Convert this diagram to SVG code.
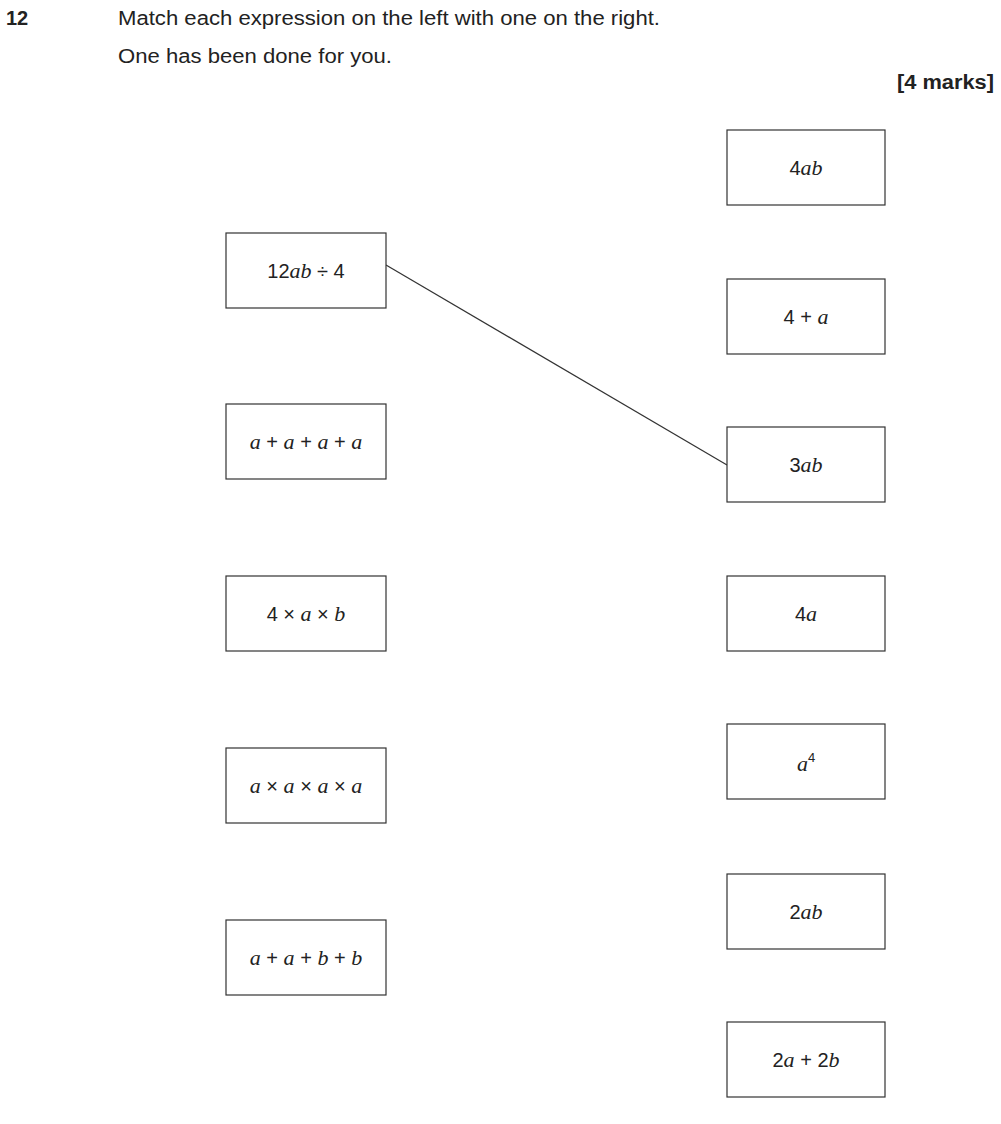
<svg xmlns="http://www.w3.org/2000/svg" width="1001" height="1124" viewBox="0 0 1001 1124">
<style>
.b{fill:#fff;stroke:#333;stroke-width:1.2}
.t{font-family:"Liberation Sans",Arial,sans-serif;font-size:20px;fill:#222;text-anchor:middle}
.i{font-family:"Liberation Serif","Times New Roman",serif;font-style:italic;font-size:22px}
.h{font-family:"Liberation Sans",Arial,sans-serif;font-size:20px;fill:#222}
</style>
<rect width="1001" height="1124" fill="#fff"/>
<text class="h" x="6" y="25" font-weight="bold">12</text>
<text class="h" x="118" y="25" textLength="542" lengthAdjust="spacingAndGlyphs">Match each expression on the left with one on the right.</text>
<text class="h" x="118" y="63" textLength="274" lengthAdjust="spacingAndGlyphs">One has been done for you.</text>
<text class="h" x="897" y="89" font-weight="bold" textLength="97" lengthAdjust="spacingAndGlyphs">[4 marks]</text>
<g id="connectors"><line x1="386" y1="265" x2="727" y2="465" stroke="#333" stroke-width="1.2"/></g>
<g id="L1"><rect class="b" x="226" y="233" width="160" height="75"/><text class="t" x="306" y="278">12<tspan class="i">ab</tspan> ÷ 4</text></g>
<g id="L2"><rect class="b" x="226" y="404" width="160" height="75"/><text class="t" x="306" y="449"><tspan class="i">a</tspan> + <tspan class="i">a</tspan> + <tspan class="i">a</tspan> + <tspan class="i">a</tspan></text></g>
<g id="L3"><rect class="b" x="226" y="576" width="160" height="75"/><text class="t" x="306" y="621">4 × <tspan class="i">a</tspan> × <tspan class="i">b</tspan></text></g>
<g id="L4"><rect class="b" x="226" y="748" width="160" height="75"/><text class="t" x="306" y="793"><tspan class="i">a</tspan> × <tspan class="i">a</tspan> × <tspan class="i">a</tspan> × <tspan class="i">a</tspan></text></g>
<g id="L5"><rect class="b" x="226" y="920" width="160" height="75"/><text class="t" x="306" y="965"><tspan class="i">a</tspan> + <tspan class="i">a</tspan> + <tspan class="i">b</tspan> + <tspan class="i">b</tspan></text></g>
<g id="R1"><rect class="b" x="727" y="130" width="158" height="75"/><text class="t" x="806" y="175">4<tspan class="i">ab</tspan></text></g>
<g id="R2"><rect class="b" x="727" y="279" width="158" height="75"/><text class="t" x="806" y="324">4 + <tspan class="i">a</tspan></text></g>
<g id="R3"><rect class="b" x="727" y="427" width="158" height="75"/><text class="t" x="806" y="472">3<tspan class="i">ab</tspan></text></g>
<g id="R4"><rect class="b" x="727" y="576" width="158" height="75"/><text class="t" x="806" y="621">4<tspan class="i">a</tspan></text></g>
<g id="R5"><rect class="b" x="727" y="724" width="158" height="75"/><text class="t" x="806" y="771"><tspan class="i">a</tspan><tspan font-size="13" dy="-9">4</tspan></text></g>
<g id="R6"><rect class="b" x="727" y="874" width="158" height="75"/><text class="t" x="806" y="919">2<tspan class="i">ab</tspan></text></g>
<g id="R7"><rect class="b" x="727" y="1022" width="158" height="75"/><text class="t" x="806" y="1067">2<tspan class="i">a</tspan> + 2<tspan class="i">b</tspan></text></g>
</svg>
